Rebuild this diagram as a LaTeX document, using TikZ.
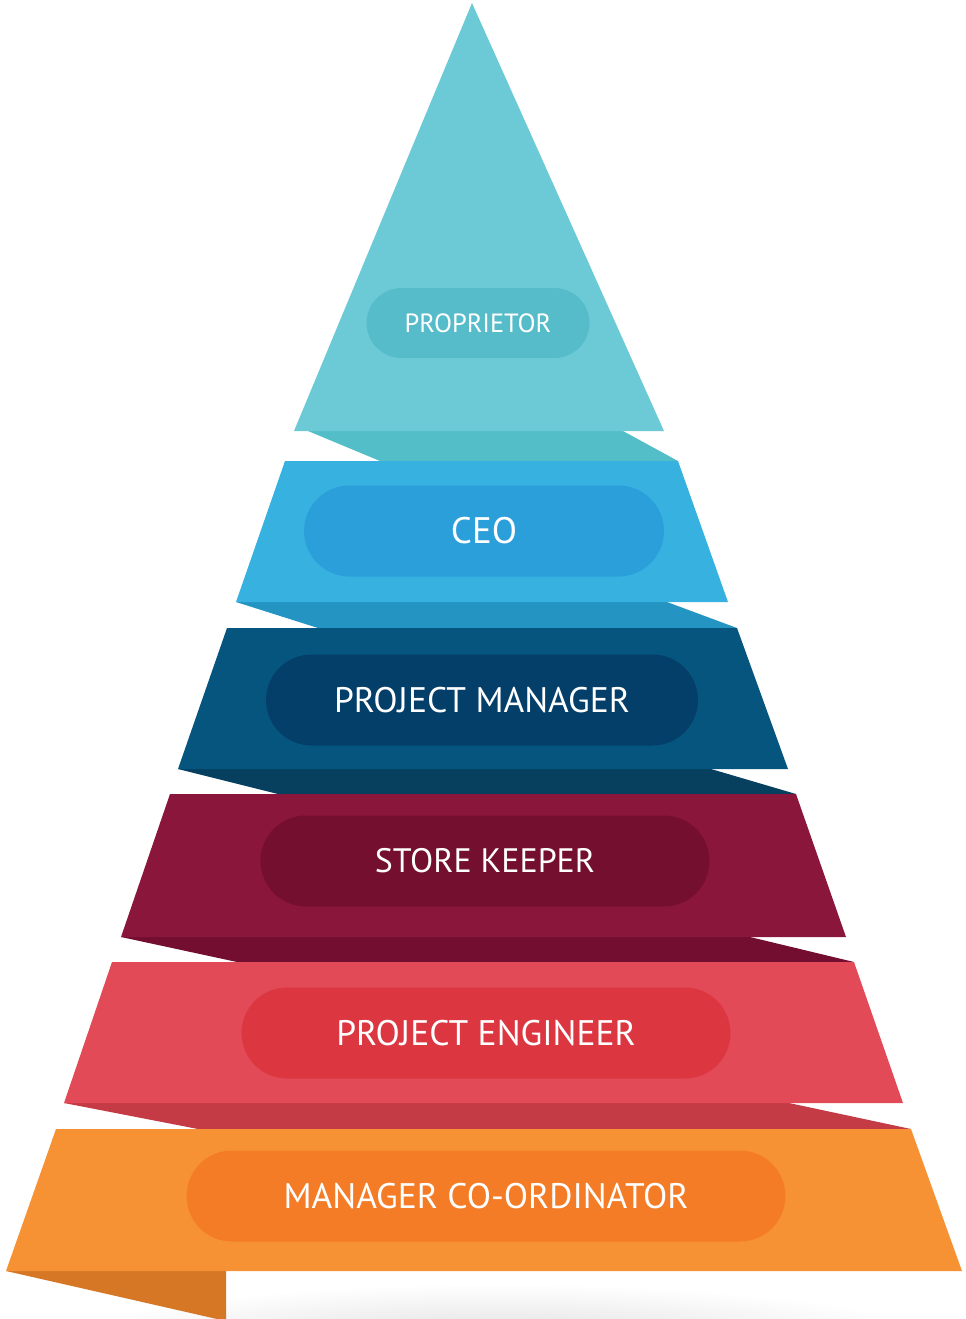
\documentclass[tikz,border=0pt]{standalone}
\usepackage{fontspec}
\setmainfont{PT Sans}
\usepackage{tikz}
\usepackage{xcolor}
\usetikzlibrary{shapes,arrows, positioning}

\definecolor{propband}{HTML}{6BCAD6}
\definecolor{proppill}{HTML}{57BCC9}
\definecolor{propfold}{HTML}{53BEC8}
\definecolor{ceoband}{HTML}{36B1E0}
\definecolor{ceopill}{HTML}{2A9FDA}
\definecolor{ceofold}{HTML}{2494C2}
\definecolor{pmband}{HTML}{06557F}
\definecolor{pmpill}{HTML}{043F6A}
\definecolor{pmfold}{HTML}{07405F}
\definecolor{skband}{HTML}{8A163C}
\definecolor{skpill}{HTML}{740F30}
\definecolor{skfold}{HTML}{730E30}
\definecolor{peband}{HTML}{E24A57}
\definecolor{pepill}{HTML}{DC3641}
\definecolor{pefold}{HTML}{C43B46}
\definecolor{mcband}{HTML}{F79234}
\definecolor{mcpill}{HTML}{F47C26}
\definecolor{mcfold}{HTML}{D57725}

\tikzstyle{pill} = [rounded corners=0.91cm, inner sep=0pt, text=white,
    minimum height=1.82cm, font=\fontsize{20.2}{22}\selectfont]

\begin{document}
\begin{tikzpicture}[x=0.02cm, y=-0.02cm]
    \useasboundingbox (0,0) rectangle (966,1319);
    \clip (0,0) rectangle (966,1319);

    % Folds between the levels
    \fill [propfold] (308,431) -- (623,431) -- (678,461) -- (380,461) -- cycle;
    \fill [ceofold] (236,602) -- (667,602) -- (737,628) -- (318,628) -- cycle;
    \fill [pmfold] (178,769) -- (711,769) -- (796,794) -- (278,794) -- cycle;
    \fill [skfold] (121,937) -- (750,937) -- (854,962) -- (237,962) -- cycle;
    \fill [pefold] (64,1103) -- (789,1103) -- (911,1129) -- (198,1129) -- cycle;

    % Shadow under the ribbon
    \shade [inner color=gray!26, outer color=white] (500,1342) ellipse (440 and 58);
    \fill [mcfold] (6,1271) -- (226,1271) -- (226,1319) -- (217,1319) -- cycle;

    % Levels
    \fill [propband] (472,3) -- (664,431) -- (294,431) -- cycle;
    \fill [ceoband] (285,461) -- (678,461) -- (728,602) -- (236,602) -- cycle;
    \fill [pmband] (227,628) -- (737,628) -- (788,769) -- (178,769) -- cycle;
    \fill [skband] (170,794) -- (796,794) -- (846,937) -- (121,937) -- cycle;
    \fill [peband] (112,962) -- (854,962) -- (903,1103) -- (64,1103) -- cycle;
    \fill [mcband] (56,1129) -- (911,1129) -- (962,1271) -- (6,1271) -- cycle;

    % Place nodes
    \node [pill, fill=proppill, minimum width=4.46cm, minimum height=1.4cm,
        rounded corners=0.7cm, font=\fontsize{15}{17}\selectfont] (prop) at (478,323) {PROPRIETOR};
    \node [pill, fill=ceopill, minimum width=7.2cm, font=\fontsize{21}{23}\selectfont] (ceo) at (484,531) {CEO};
    \node [pill, fill=pmpill, minimum width=8.64cm] (pm) at (482,700) {PROJECT MANAGER};
    \node [pill, fill=skpill, minimum width=8.98cm, font=\fontsize{19.3}{21}\selectfont] (sk) at (485,861) {STORE KEEPER};
    \node [pill, fill=pepill, minimum width=9.78cm] (pe) at (486,1033) {PROJECT ENGINEER};
    \node [pill, fill=mcpill, minimum width=11.98cm] (mc) at (486,1196) {MANAGER CO-ORDINATOR};

\end{tikzpicture}
\end{document}
